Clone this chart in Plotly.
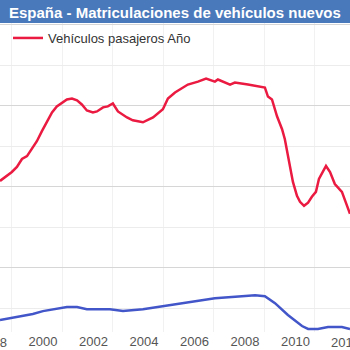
import plotly.graph_objects as go

# Decimal-year positions and values (thousands of vehicles, 12-month totals)
red_x = [1998.30, 1998.77, 1998.97, 1999.17, 1999.37, 1999.60, 1999.76, 1999.96, 2000.16, 2000.36,
         2000.55, 2000.75, 2000.95, 2001.15, 2001.35, 2001.54, 2001.74, 2001.98, 2002.14, 2002.38,
         2002.57, 2002.77, 2002.97, 2003.33, 2003.56, 2003.96, 2004.36, 2004.75, 2004.95, 2005.23,
         2005.74, 2006.14, 2006.46, 2006.81, 2006.93, 2007.41, 2007.60, 2008.12, 2008.67, 2008.79,
         2008.91, 2009.07, 2009.27, 2009.47, 2009.58, 2009.74, 2009.90, 2010.06, 2010.18, 2010.34,
         2010.50, 2010.65, 2010.81, 2010.93, 2011.21, 2011.37, 2011.56, 2011.84, 2012.04, 2012.16]
red_y = [1037, 1092, 1123, 1172, 1190, 1245, 1282, 1344, 1399, 1460,
         1497, 1521, 1540, 1546, 1534, 1509, 1472, 1460, 1466, 1491,
         1497, 1515, 1466, 1429, 1411, 1399, 1429, 1479, 1546, 1583,
         1632, 1650, 1669, 1650, 1663, 1632, 1644, 1632, 1613, 1613,
         1558, 1540, 1436, 1356, 1294, 1153, 1031, 945, 908, 883,
         902, 939, 969, 1049, 1129, 1092, 1018, 969, 883, 834]

blue_x = [1998.30, 1998.69, 1999.09, 1999.60, 2000.00, 2000.40, 2000.95, 2001.35, 2001.74, 2002.65,
          2003.17, 2003.96, 2004.75, 2005.23, 2006.02, 2006.81, 2007.88, 2008.40, 2008.79, 2009.19,
          2009.70, 2010.26, 2010.50, 2010.89, 2011.29, 2011.84, 2012.16]
blue_y = [178, 190, 202, 215, 233, 245, 258, 258, 245, 245,
          233, 245, 264, 276, 294, 313, 325, 331, 325, 282,
          209, 141, 123, 123, 135, 135, 123]

tick_years = [2000, 2002, 2004, 2006, 2008, 2010]
tick_text = [str(y) for y in tick_years]
edge_years = [1998, 2012]

title_text = "España - Matriculaciones de vehículos nuevos"
red_name = "Vehículos pasajeros Año"

W, H = 350, 350
mt, mb = 23, 18
ph = H - mt - mb
x0, x1 = 1998.30, 2012.16

fig = go.Figure()
fig.add_trace(go.Scatter(x=blue_x, y=blue_y, mode="lines", line=dict(color="#4356c9", width=2.5),
                         showlegend=False, name="Vehículos comerciales"))
fig.add_trace(go.Scatter(x=red_x, y=red_y, mode="lines", line=dict(color="#ea1a40", width=2.5),
                         name=red_name))

edge_annotations = [
    dict(text=str(yr), xref="paper", yref="paper", x=(yr - x0) / (x1 - x0), y=-(342 - (H - mb)) / ph,
         xanchor="center", yanchor="middle", showarrow=False, font=dict(size=13, color="#555555"))
    for yr in edge_years
]

fig.update_layout(
    width=W, height=H,
    margin=dict(l=0, r=0, t=mt, b=mb),
    paper_bgcolor="white", plot_bgcolor="white",
    font=dict(family="Liberation Sans, Arial, sans-serif", color="#555555", size=13),
    legend=dict(x=8 / W, y=1, xanchor="left", yanchor="top", orientation="h",
                bgcolor="rgba(0,0,0,0)", font=dict(size=13, color="#333333")),
    xaxis=dict(range=[x0, x1], tickmode="array", tickvals=tick_years, ticktext=tick_text,
               showgrid=False, zeroline=False, showline=False, ticks="",
               tickfont=dict(size=13, color="#555555"),
               minor=dict(tick0=1998.77, dtick=2, showgrid=True, gridcolor="#f1f1f1", gridwidth=1, ticks="")),
    yaxis=dict(range=[104, 2012], tick0=0, dtick=500, showgrid=True, gridcolor="#d6d6d6", gridwidth=1,
               zeroline=False, showline=False, showticklabels=False, ticks="",
               minor=dict(tick0=0, dtick=250, showgrid=True, gridcolor="#ececec", gridwidth=1, ticks="")),
    shapes=[dict(type="rect", xref="paper", yref="paper", x0=-0.01, x1=1.01, y0=1, y1=1 + mt / ph + 0.01,
                 fillcolor="#4a79bb", line=dict(width=0), layer="above")],
    annotations=[
        dict(text="<b>" + title_text + "</b>", xref="paper", yref="paper", x=7 / W, y=1 + (mt - 12) / ph,
             xanchor="left", yanchor="middle", showarrow=False,
             font=dict(size=15, color="white", family="Liberation Sans, Arial, sans-serif")),
    ] + edge_annotations,
)

fig.write_html("out.html")
